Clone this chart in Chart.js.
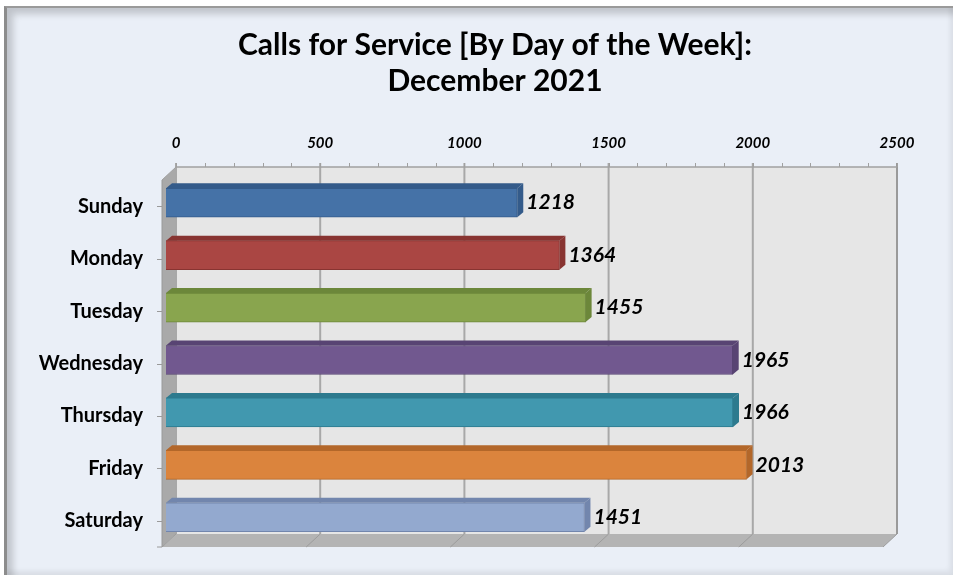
<!DOCTYPE html>
<html>
<head>
<meta charset="utf-8">
<title>Calls for Service by Day of the Week</title>
<script src="https://cdn.jsdelivr.net/npm/chart.js@4.4.1/dist/chart.umd.min.js"></script>
<style>
  body { margin: 0; background: #ffffff; }
  #frame {
    position: absolute; left: 4px; top: 6px; width: 949px; height: 569px;
    box-sizing: border-box; background: #eaeff7;
    border-left: 3px solid #8c8c8c; border-top: 2px solid #9a9a9a;
    box-shadow: inset 6px 6px 7px rgba(0,0,0,0.18), inset -3px -4px 5px rgba(0,0,0,0.07);
  }
  #wrap { position: absolute; left: 0; top: 0; width: 953px; height: 575px; }
</style>
</head>
<body>
<div id="frame"></div>
<div id="wrap"><canvas id="chart"></canvas></div>
<script>
const days = ['Sunday', 'Monday', 'Tuesday', 'Wednesday', 'Thursday', 'Friday', 'Saturday'];
const calls = [1218, 1364, 1455, 1965, 1966, 2013, 1451];
const xTicks = [0, 500, 1000, 1500, 2000, 2500];
const barColors = ['#4572a7', '#aa4643', '#89a54e', '#71588f', '#4198af', '#db843d', '#93a9cf'];
const darkColors = ['#345b8a', '#883431', '#6c873a', '#584473', '#2d7a8e', '#b3672a', '#7286ad'];

const FONT = 'Lato, "Open Sans", sans-serif';

// fake Excel 3D look: walls, floor, bar depth
const depth = {
    id: 'depth',
    afterLayout(chart) {
        // excel centres the title a bit right of the canvas middle
        chart.titleBlock.left = 93;
    },
    beforeDatasetsDraw(chart) {
        const { ctx, chartArea: a, scales: { x, y } } = chart;
        const dx = 14, dy = 13;
        const x0 = x.getPixelForValue(xTicks[0]);
        const x1 = x.getPixelForValue(xTicks[xTicks.length - 1]);
        const top = a.top - dy, bot = a.bottom - dy;
        ctx.save();
        ctx.fillStyle = '#e6e6e6';
        ctx.fillRect(x0, top, x1 - x0, bot - top);

        // left wall
        ctx.fillStyle = '#a9a9a9';
        ctx.beginPath();
        ctx.moveTo(x0, top); ctx.lineTo(x0 - dx, a.top);
        ctx.lineTo(x0 - dx, a.bottom); ctx.lineTo(x0, bot);
        ctx.closePath(); ctx.fill();

        // floor
        ctx.fillStyle = '#b4b4b4';
        ctx.beginPath();
        ctx.moveTo(x0, bot); ctx.lineTo(x1, bot);
        ctx.lineTo(x1 - dx, a.bottom); ctx.lineTo(x0 - dx, a.bottom);
        ctx.closePath(); ctx.fill();

        // grid on back wall + floor
        xTicks.forEach((v, i) => {
            const px = x.getPixelForValue(v);
            ctx.strokeStyle = i === xTicks.length - 1 ? '#9a9a9a' : '#a8a8a8';
            ctx.lineWidth = 2;
            ctx.beginPath(); ctx.moveTo(px, top - 4); ctx.lineTo(px, bot); ctx.stroke();
            ctx.strokeStyle = '#9c9c9c';
            ctx.lineWidth = 1;
            ctx.beginPath(); ctx.moveTo(px, bot); ctx.lineTo(px - dx, a.bottom); ctx.stroke();
        });

        // top axis line with minor ticks
        ctx.strokeStyle = '#a0a0a0';
        ctx.lineWidth = 1.5;
        ctx.beginPath(); ctx.moveTo(x0, top); ctx.lineTo(x1, top); ctx.stroke();
        ctx.lineWidth = 1;
        for (let v = 0; v <= 2500; v += 100) {
            const px = Math.round(x.getPixelForValue(v)) + 0.5;
            ctx.beginPath(); ctx.moveTo(px, top - 4); ctx.lineTo(px, top); ctx.stroke();
        }
        ctx.beginPath(); ctx.moveTo(x0, top); ctx.lineTo(x0 - dx, a.top); ctx.stroke();

        // category axis line with ticks
        ctx.strokeStyle = '#9a9a9a';
        ctx.beginPath(); ctx.moveTo(x0 - dx, a.top); ctx.lineTo(x0 - dx, a.bottom); ctx.stroke();
        days.forEach((d, i) => {
            const py = Math.round(y.getPixelForValue(i)) + 0.5;
            ctx.beginPath(); ctx.moveTo(x0 - dx - 5, py); ctx.lineTo(x0 - dx, py); ctx.stroke();
        });
        ctx.beginPath(); ctx.moveTo(x0 - dx - 5, a.bottom); ctx.lineTo(x0 - dx, a.bottom); ctx.stroke();
        ctx.restore();

        // bars sit in front of the wall
        ctx.save();
        ctx.translate(-10, -3.5);
    },
    afterDatasetsDraw(chart) {
        const { ctx } = chart;
        const bars = chart.getDatasetMeta(0).data;
        const bx = 6, by = 5;
        bars.forEach((bar, i) => {
            const t = bar.y - bar.height / 2, b = bar.y + bar.height / 2;
            ctx.fillStyle = darkColors[i];
            ctx.beginPath();
            ctx.moveTo(bar.base, t); ctx.lineTo(bar.x, t);
            ctx.lineTo(bar.x + bx, t - by); ctx.lineTo(bar.base + bx, t - by);
            ctx.closePath(); ctx.fill();
            ctx.beginPath();
            ctx.moveTo(bar.x, t); ctx.lineTo(bar.x + bx, t - by);
            ctx.lineTo(bar.x + bx, b - by); ctx.lineTo(bar.x, b);
            ctx.closePath(); ctx.fill();
        });
        ctx.restore();

        // value labels
        ctx.save();
        ctx.fillStyle = '#000';
        ctx.font = 'italic bold 21px ' + FONT;
        ctx.textAlign = 'left';
        ctx.textBaseline = 'middle';
        bars.forEach((bar, i) => {
            ctx.fillText(String(calls[i]), bar.x - 10 + bx + 3, bar.y - 3.5);
        });
        ctx.restore();
    }
};

const ctx = document.getElementById('chart').getContext('2d');
new Chart(ctx, {
    type: 'bar',
    data: {
        labels: days,
        datasets: [{
            data: calls,
            backgroundColor: barColors,
            borderColor: darkColors,
            borderWidth: 1,
            barThickness: 29,
            clip: false
        }]
    },
    options: {
        indexAxis: 'y',
        responsive: true,
        maintainAspectRatio: false,
        animation: false,
        devicePixelRatio: 1,
        layout: { padding: { left: 0, right: 56, top: 0, bottom: 28 } },
        plugins: {
            legend: { display: false },
            tooltip: { enabled: false },
            title: {
                display: true,
                text: ['Calls for Service [By Day of the Week]:', 'December 2021'],
                color: '#000',
                font: { family: FONT, size: 30, weight: 'bold', lineHeight: 1.2 },
                padding: { top: 27, bottom: 36 }
            }
        },
        scales: {
            x: {
                position: 'top',
                min: 0,
                max: 2500,
                afterFit: s => { s.height = 45; },
                grid: { display: false, drawTicks: false },
                border: { display: false },
                ticks: {
                    stepSize: 500,
                    padding: 28,
                    color: '#000',
                    maxRotation: 0,
                    callback: v => String(v),
                    font: { family: FONT, size: 15, weight: 'bold', style: 'italic' }
                }
            },
            y: {
                afterFit: s => { s.width = 176; s.paddingTop = 0; s.paddingBottom = 0; },
                grid: { display: false, drawTicks: false },
                border: { display: false },
                ticks: {
                    padding: 33,
                    color: '#000',
                    font: { family: FONT, size: 20, weight: 'bold' }
                }
            }
        }
    },
    plugins: [depth]
});
</script>
</body>
</html>
